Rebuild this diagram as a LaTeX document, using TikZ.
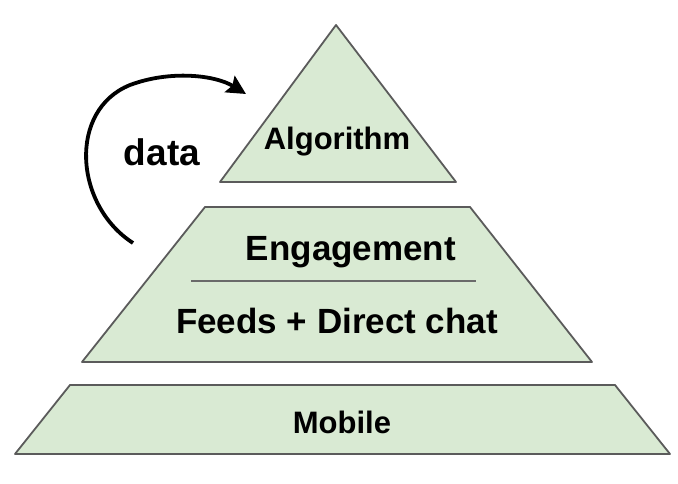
\documentclass[tikz,border=0pt]{standalone}
\usepackage{fontspec}
\setmainfont{Liberation Sans}
\usepackage{tikz}
\usetikzlibrary{arrows.meta}
\usepackage{xcolor}
\definecolor{TierFill}{HTML}{D9EAD3}
\definecolor{TierEdge}{HTML}{5B5B5B}
\definecolor{TierRule}{HTML}{6A6A6A}

\begin{document}
\begin{tikzpicture}[>=Stealth,x=1pt,y=-1pt,
    tier/.style={fill=TierFill,draw=TierEdge,line width=1.8pt,line join=round},
    tiertext/.style={anchor=base,inner sep=0pt,font=\bfseries\fontsize{#1}{#1}\selectfont}]
  \useasboundingbox (0,0) rectangle (678,484);
  % the three tiers
  \draw[tier] (336,25)--(456,182)--(220,182)--cycle;
  \draw[tier] (205,207)--(470,207)--(592,362)--(82,362)--cycle;
  \draw[tier] (70,385)--(615,385)--(670,454)--(15,454)--cycle;
  \node[tiertext=31] (algo) at (337,150) {Algorithm};
  \node[tiertext=35] (engage) at (351,261) {Engagement};
  \node[tiertext=35] (feeds) at (337,333) {Feeds + Direct chat};
  \node[tiertext=31] (mobile) at (342,433) {Mobile};
  \coordinate (ruleL) at (191,281);
  \coordinate (ruleR) at (476,281);
  \draw[TierRule,line width=1.8pt] (ruleL)--(ruleR);
  % feedback loop
  \coordinate (loopA) at (133,243);
  \coordinate (loopB) at (246,94);
  \draw[-{Stealth[length=19pt,width=19pt,inset=3pt]},line width=3.8pt]
    (loopA) .. controls (74,205) and (68,110) .. (130,85)
            .. controls (170,70) and (215,75) .. (loopB);
  \node[tiertext=37] (data) at (162,166) {data};
\end{tikzpicture}
\end{document}
